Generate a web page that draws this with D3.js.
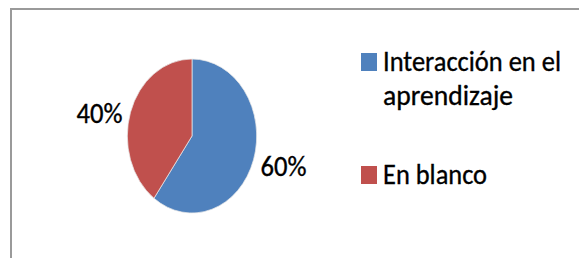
<!DOCTYPE html>
<html>
<head>
<meta charset="utf-8">
<script src="https://cdn.jsdelivr.net/npm/d3@7"></script>
<style>
  html, body { margin: 0; padding: 0; background: #fff; }
  svg { display: block; }
  text { font-family: Carlito, Calibri, Lato, sans-serif; fill: #000; stroke: #000; stroke-width: 0.35; }
</style>
</head>
<body>
<div id="chart"></div>
<script>
// chart values
const categories = ["Interacción en el aprendizaje", "En blanco"];
const values = [60, 40];
const colors = ["#4f81bd", "#c0504d"];
const legendLines = [["Interacción en el", "aprendizaje"], ["En blanco"]];

const width = 579, height = 258;

const svg = d3.select("#chart").append("svg")
    .attr("width", width)
    .attr("height", height);

// outer frame (runs off the right and bottom edges)
svg.append("rect")
    .attr("x", 11)
    .attr("y", 9)
    .attr("width", width)
    .attr("height", height)
    .attr("fill", "none")
    .attr("stroke", "#9a9a9a")
    .attr("stroke-width", 2);

// the original picture is squeezed sideways, so the pie is an ellipse
const cx = 192, cy = 136, ry = 77, sx = 0.84;
const rx = ry * sx;

const pie = d3.pie().sort(null).value(d => d)(values);
const arc = d3.arc().innerRadius(0).outerRadius(ry);

svg.append("g")
    .attr("transform", `translate(${cx},${cy}) scale(${sx},1)`)
    .selectAll("path")
    .data(pie)
    .enter().append("path")
    .attr("d", arc)
    .attr("fill", (d, i) => colors[i])
    .attr("stroke", "#e8e8e8")
    .attr("stroke-width", 0.8);

// percentage labels just outside the edge
const total = d3.sum(values);
const labelWidth = 46;
svg.append("g")
    .selectAll("text")
    .data(pie)
    .enter().append("text")
    .attr("x", d => {
        const a = (d.startAngle + d.endAngle) / 2;
        const ex = cx + rx * Math.sin(a);
        return Math.sin(a) < 0 ? ex - 8 - labelWidth : ex + 7;
    })
    .attr("y", d => {
        const a = (d.startAngle + d.endAngle) / 2;
        const ey = cy - ry * Math.cos(a);
        return Math.sin(a) < 0 ? ey + 11 : ey + 16;
    })
    .attr("font-size", 28)
    .attr("textLength", labelWidth)
    .attr("lengthAdjust", "spacingAndGlyphs")
    .text(d => Math.round(d.value / total * 100) + "%");

// legend
const legendX = 361;
const legendBase = [71, 184];
const lineGap = 34;
const lineWidths = { "Interacción en el": 178, "aprendizaje": 130, "En blanco": 104 };

const legend = svg.append("g")
    .selectAll("g")
    .data(categories)
    .enter().append("g");

legend.append("rect")
    .attr("x", legendX)
    .attr("y", (d, i) => legendBase[i] - 18)
    .attr("width", 16)
    .attr("height", 18)
    .attr("fill", (d, i) => colors[i]);

legend.each(function(d, i) {
    d3.select(this).selectAll("text")
        .data(legendLines[i])
        .enter().append("text")
        .attr("x", legendX + 22)
        .attr("y", (t, j) => legendBase[i] + j * lineGap)
        .attr("font-size", 29)
        .attr("textLength", t => lineWidths[t])
        .attr("lengthAdjust", "spacingAndGlyphs")
        .text(t => t);
});
</script>
</body>
</html>
